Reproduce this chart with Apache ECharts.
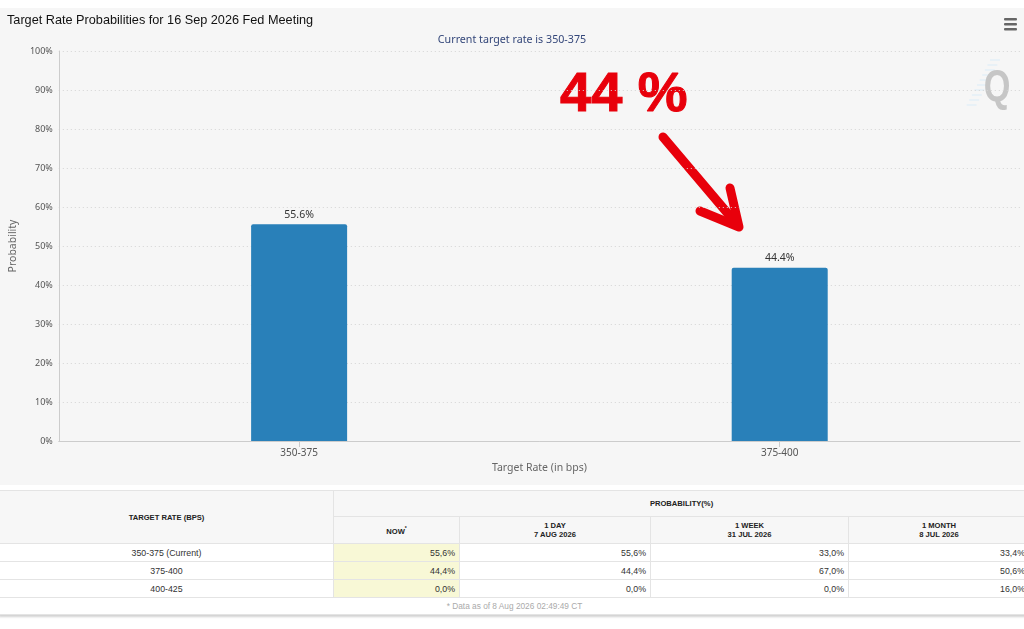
<!DOCTYPE html>
<html>
<head>
<meta charset="utf-8">
<script src="https://cdn.jsdelivr.net/npm/echarts@6/dist/echarts.min.js"></script>
<style>
  html, body { margin: 0; padding: 0; background: #ffffff; width: 1024px; height: 629px; overflow: hidden; }
  #chart { position: absolute; left: 0; top: 8px; width: 1024px; height: 477px; background: #f6f6f6; }
  #tbl { position: absolute; left: -1px; top: 490px; width: 1030px; border-collapse: collapse; table-layout: fixed;
         font-family: 'Liberation Sans', Arial, sans-serif; color: #333; box-shadow: 0 2px 2px rgba(0,0,0,0.18); background: #fff; }
  #tbl td, #tbl th { border: 1px solid #e4e4e4; padding: 0 4px; overflow: hidden; white-space: nowrap; }
  #tbl th { background: #f7f7f7; font-weight: bold; font-size: 7.6px; color: #222; text-align: center; line-height: 9px; }
  #tbl tr.h1 th { height: 25px; }
  #tbl tr.h2 th { height: 26px; }
  #tbl td { font-size: 8.8px; height: 17px; text-align: right; }
  #tbl td.rate { text-align: center; }
  #tbl td.now { background: #f8f8d6; }
  #tbl td.foot { text-align: center; color: #aaa; font-size: 8.3px; height: 16px; }
  sup { font-size: 5px; vertical-align: 4px; }
</style>
</head>
<body>
<div id="chart"></div>
<table id="tbl"></table>
<script>
// ---- data ----
const categories = ['350-375', '375-400'];
const probabilities = [55.6, 44.4];
const yTicks = [0, 10, 20, 30, 40, 50, 60, 70, 80, 90, 100];

const tableRates = ['350-375 (Current)', '375-400', '400-425'];
const probNow = [55.6, 44.4, 0.0];
const prob1Day = [55.6, 44.4, 0.0];
const prob1Week = [33.0, 67.0, 0.0];
const prob1Month = [33.4, 50.6, 16.0];
const colHeads = [['NOW'], ['1 DAY', '7 AUG 2026'], ['1 WEEK', '31 JUL 2026'], ['1 MONTH', '8 JUL 2026']];
const footNote = '* Data as of 8 Aug 2026 02:49:49 CT';

// ---- chart ----
const chart = echarts.init(document.getElementById('chart'));
const red = '#e8000b';
const stripes = [];
for (let i = 0; i < 10; i++) {
  stripes.push({ type: 'line', silent: true,
    shape: { x1: 990 - i * 2.6, y1: 52 + i * 5, x2: 1000 - i * 2.6, y2: 52 + i * 5 },
    style: { stroke: '#e0eef9', lineWidth: 1.2 } });
}
chart.setOption({
  backgroundColor: '#f6f6f6',
  animation: false,
  title: [
    { text: 'Target Rate Probabilities for 16 Sep 2026 Fed Meeting', left: 2, top: 1,
      textStyle: { fontFamily: 'Liberation Sans', fontSize: 12.7, fontWeight: 'normal', color: '#111' } },
    { text: 'Current target rate is 350-375', left: 'center', top: 21,
      textStyle: { fontFamily: 'Noto Sans', fontSize: 10.7, fontWeight: 'normal', color: '#34477a' } }
  ],
  grid: { left: 55, right: 4, top: 43, bottom: 44, containLabel: false },
  xAxis: {
    type: 'category', data: categories,
    axisLine: { lineStyle: { color: '#cccccc' } },
    axisTick: { show: true, alignWithLabel: true, length: 6, lineStyle: { color: '#cccccc' } },
    axisLabel: { fontFamily: 'Noto Sans', fontSize: 10, color: '#555', margin: 7 },
    name: 'Target Rate (in bps)', nameLocation: 'middle', nameGap: 20,
    nameTextStyle: { fontFamily: 'Noto Sans', fontSize: 10.5, color: '#666' }
  },
  yAxis: {
    type: 'value', min: yTicks[0], max: yTicks[yTicks.length - 1], interval: yTicks[1] - yTicks[0],
    axisLine: { show: true, lineStyle: { color: '#cccccc' } },
    axisTick: { show: false },
    axisLabel: { formatter: '{value}%', fontFamily: 'Noto Sans', fontSize: 9, color: '#555', margin: 6 },
    splitLine: { lineStyle: { type: [1, 3], color: '#d4d4d4', width: 1 } },
    name: 'Probability', nameLocation: 'middle', nameGap: 31, nameRotate: 90,
    nameTextStyle: { fontFamily: 'Noto Sans', fontSize: 10.5, color: '#666' }
  },
  series: [{
    type: 'bar', data: probabilities, barWidth: 96,
    itemStyle: { color: '#2980b9', borderRadius: [2, 2, 0, 0] },
    label: { show: true, position: 'top', distance: 4, formatter: p => p.value.toFixed(1) + '%',
      fontFamily: 'Noto Sans', fontSize: 10.5, color: '#333' }
  }],
  graphic: [
    { type: 'text', silent: true, x: 560, y: 88,
      style: { text: '44 %', fontFamily: 'Liberation Sans', fontWeight: 'bold', fontSize: 56,
        fill: red, stroke: red, lineWidth: 1, lineJoin: 'round', verticalAlign: 'middle' } },
    { type: 'polyline', silent: true,
      shape: { points: [[663, 129], [735, 214]] },
      style: { stroke: red, lineWidth: 9, lineCap: 'round', fill: null } },
    { type: 'polyline', silent: true,
      shape: { points: [[700, 203], [739, 219], [730, 180]] },
      style: { stroke: red, lineWidth: 9, lineCap: 'round', lineJoin: 'round', fill: null } },
    ...stripes,
    { type: 'text', silent: true, x: 997, y: 81, scaleX: 0.78,
      style: { text: 'Q', fontFamily: 'Liberation Sans', fontWeight: 'bold', fontSize: 44, fill: '#c6c6c6',
        align: 'center', verticalAlign: 'middle' } },
    { type: 'rect', silent: true, shape: { x: 1004, y: 10, width: 13, height: 2.5, r: 1 }, style: { fill: '#666' } },
    { type: 'rect', silent: true, shape: { x: 1004, y: 15, width: 13, height: 2.5, r: 1 }, style: { fill: '#666' } },
    { type: 'rect', silent: true, shape: { x: 1004, y: 20, width: 13, height: 2.5, r: 1 }, style: { fill: '#666' } }
  ]
});

// ---- table ----
const fmt = v => v.toFixed(1).replace('.', ',') + '%';
const colW = [334, 126, 191, 198, 181];
let html = '<colgroup>' + colW.map(w => '<col style="width:' + w + 'px">').join('') + '</colgroup>';
html += '<tr class="h1"><th rowspan="2">TARGET RATE (BPS)</th><th colspan="4">PROBABILITY(%)</th></tr>';
html += '<tr class="h2">' + colHeads.map((h, i) =>
  '<th>' + h.join('<br>') + (i === 0 ? '<sup>*</sup>' : '') + '</th>').join('') + '</tr>';
tableRates.forEach((r, i) => {
  html += '<tr><td class="rate">' + r + '</td><td class="now">' + fmt(probNow[i]) + '</td><td>' + fmt(prob1Day[i]) +
    '</td><td>' + fmt(prob1Week[i]) + '</td><td>' + fmt(prob1Month[i]) + '</td></tr>';
});
html += '<tr><td class="foot" colspan="5">' + footNote + '</td></tr>';
document.getElementById('tbl').innerHTML = html;
</script>
</body>
</html>
